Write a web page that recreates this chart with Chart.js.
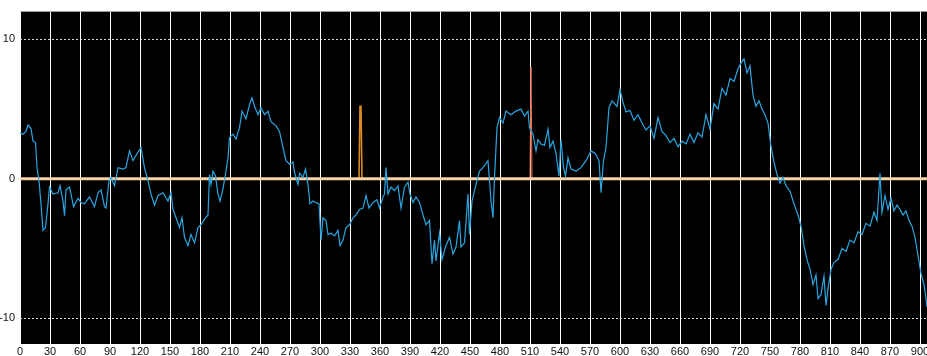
<!DOCTYPE html>
<html>
<head>
<meta charset="utf-8">
<script src="https://cdn.jsdelivr.net/npm/chart.js@4.4.1/dist/chart.umd.min.js"></script>
<style>
  html, body { margin: 0; padding: 0; background: #fff; overflow: hidden; }
  #wrap { width: 927px; height: 356px; position: relative; }
</style>
</head>
<body>
<div id="wrap"><canvas id="chart"></canvas></div>
<script>
"use strict";

// ── Data ───────────────────────────────────────────────────
// Blue signal: x positions and values, ten per row.
const blueX = [
  0, 3, 6, 8, 11, 13, 15.5, 17, 19, 21,
  23, 25.5, 28, 29.5, 33, 38, 40, 43, 44.5, 46,
  49.5, 51, 53.5, 58, 61, 64.5, 69.5, 74.5, 78, 81,
  84.5, 86, 89, 91, 94.5, 98, 103, 106, 109.5, 113,
  117, 121, 124.5, 128, 131, 134.5, 138, 143, 148, 151,
  153, 156, 159.5, 162, 164.5, 168, 171, 174.5, 178, 181,
  184.5, 188, 189.5, 191, 193, 195.5, 198, 200, 203, 206,
  208, 209.5, 213, 216, 219.5, 222, 226, 229.5, 232, 234.5,
  238, 241, 244.5, 248, 251, 256, 259.5, 263, 266, 269.5,
  273, 274.5, 278, 279.5, 283, 285.5, 288, 290, 293, 296,
  299, 301, 303, 306, 308, 311, 314.5, 318, 320, 323,
  326, 329.5, 333, 336, 339.5, 343, 346, 349, 353, 357,
  359.5, 363, 364.5, 366, 368, 371, 374.5, 378, 381, 384.5,
  388, 390, 393, 396, 399.5, 403, 406, 409.5, 412, 414.5,
  416, 419.5, 422, 425.5, 429.5, 433, 436, 439.5, 441, 444.5,
  448, 449.5, 452, 456, 459.5, 463, 465.5, 468, 471, 473,
  474.5, 477, 479.5, 483, 486, 491, 496, 501, 504.5, 508,
  509.5, 513, 516, 518, 521, 524.5, 528, 530, 533, 536,
  539, 541, 543.5, 545.5, 548, 551, 556, 561, 566, 571,
  575.5, 579, 581, 583.5, 586, 589, 592, 597, 600, 603,
  606, 610, 614, 618, 622, 626, 630, 634, 638, 642,
  646, 650, 654, 658, 662, 666, 670, 674, 678, 682,
  686, 690, 694, 698, 702, 706, 710, 714, 718, 721,
  724, 727, 730, 733, 736, 739, 742, 745, 748, 751,
  754, 757, 760, 763, 766, 770, 774, 778, 781, 784,
  787, 790, 793, 796, 798, 801, 804, 806, 808, 811,
  814, 818, 822, 826, 830, 834, 838, 842, 846, 850,
  854, 857, 860, 862, 865, 868, 871, 874, 877, 880,
  883, 886, 889, 892, 895, 898, 901, 904, 906, 907
];
const blueY = [
  3.3, 3.2, 3.4, 3.86, 3.6, 2.7, 2.6, 0.8, -0.15, -1.8,
  -3.7, -3.5, -1.8, -0.6, -1.1, -1.0, -0.5, -1.6, -2.65, -0.8,
  -0.6, -1.1, -2.0, -1.4, -1.7, -1.8, -1.3, -2.0, -1.0, -0.8,
  -2.0, -2.1, -0.15, 0.1, -0.5, 0.8, 0.7, 0.8, 2.0, 1.3,
  1.8, 2.24, 0.8, -0.15, -1.1, -1.9, -1.2, -1.0, -1.6, -1.0,
  -2.2, -2.8, -3.5, -2.8, -4.2, -4.8, -4.0, -4.6, -3.5, -3.3,
  -2.9, -2.6, 0.3, -0.4, 0.55, 0.2, -1.1, -1.6, -0.7, 0.55,
  1.5, 2.95, 3.2, 2.85, 3.67, 4.86, 4.3, 5.33, 5.8, 5.2,
  4.6, 5.1, 4.6, 4.86, 4.1, 3.8, 3.4, 2.24, 1.3, 1.05,
  1.2, 0.45, -0.4, 0.4, 0.1, 0.7, -0.4, -1.8, -1.6, -1.7,
  -1.8, -4.4, -2.8, -3.0, -4.0, -3.9, -4.1, -3.7, -4.8, -4.4,
  -3.5, -3.3, -2.8, -2.6, -2.2, -2.1, -1.2, -2.1, -1.7, -1.5,
  -2.1, -1.3, -1.1, 0.8, -1.1, -0.6, -0.85, -0.5, -2.1, -0.6,
  -0.25, -1.1, -1.7, -1.3, -1.7, -2.6, -3.3, -3.0, -6.1, -4.4,
  -5.9, -3.9, -5.8, -4.9, -4.2, -5.4, -4.9, -3.0, -4.9, -4.6,
  -1.1, -4.0, -1.6, -0.4, 0.55, 0.8, 1.05, 1.3, -1.6, -2.8,
  0.1, 3.67, 4.4, 4.0, 4.86, 4.6, 4.86, 5.0, 4.5, 4.86,
  3.67, 3.2, 2.0, 2.8, 2.5, 2.4, 3.55, 2.24, 2.7, 1.8,
  0.2, 2.8, 0.8, 0.2, 1.5, 0.7, 0.55, 0.8, 1.3, 2.0,
  1.8, 1.3, -1.0, 1.3, 2.24, 5.1, 5.6, 5.2, 6.4, 5.5,
  4.8, 4.9, 4.2, 4.6, 4.0, 3.5, 3.8, 2.9, 4.4, 3.4,
  3.1, 2.6, 2.9, 2.3, 2.7, 2.5, 3.2, 2.6, 3.3, 3.0,
  4.6, 3.6, 5.4, 5.0, 6.5, 6.0, 7.2, 7.0, 7.9, 8.3,
  8.6, 7.6, 8.1, 6.0, 5.2, 5.6, 5.0, 4.6, 4.0, 2.3,
  1.2, 0.3, -0.3, 0.1, -0.5, -0.9, -1.8, -2.6, -3.4, -4.8,
  -5.8, -6.5, -7.6, -6.9, -8.6, -8.3, -7.0, -9.1, -7.9, -6.5,
  -6.0, -5.8, -5.0, -5.2, -4.4, -4.6, -3.8, -4.0, -3.2, -3.4,
  -2.4, -3.0, 0.4, -2.4, -1.2, -2.2, -1.4, -2.3, -1.9, -2.2,
  -2.6, -2.3, -3.0, -3.4, -4.2, -5.5, -6.8, -7.6, -8.6, -9.2
];

// Orange event series: zero except for two short spikes.
const spikeX = [0, 339, 340, 341, 342, 510, 511, 512, 907];
const spikeY = [0, 0, 5.2, 5.2, 0, 0, 8.0, 0, 0];

// Beige zero baseline.
const zeroX = [0, 907];
const zeroY = [0, 0];

// Axis ticks.
const xTicks = [0, 30, 60, 90, 120, 150, 180, 210, 240, 270, 300, 330, 360, 390, 420,
  450, 480, 510, 540, 570, 600, 630, 660, 690, 720, 750, 780, 810, 840, 870, 900];
const yTicks = [-10, 0, 10];

// ── Helpers ────────────────────────────────────────────────
const toPoints = (xs, ys) => xs.map((x, i) => ({ x, y: ys[i] }));

/** Paint the plot area black before the grid goes on. */
const blackAreaPlugin = {
  id: "blackArea",
  beforeDraw(chart) {
    const { ctx, chartArea: a } = chart;
    ctx.save();
    ctx.fillStyle = "#000";
    ctx.fillRect(a.left, a.top, a.right - a.left, a.bottom - a.top);
    ctx.restore();
  },
};

const tickFont = { family: "'Liberation Sans', Arial, sans-serif", size: 11 };

// The later spike is drawn thinner and redder than the first one.
const lateSpike = (c) => c.p0.parsed.x >= 500;

new Chart(document.getElementById("chart"), {
  type: "line",
  data: {
    datasets: [
      {
        label: "signal",
        data: toPoints(blueX, blueY),
        borderColor: "#29a6e2",
        borderWidth: 1.2,
        pointRadius: 0,
        tension: 0,
        order: 0,
      },
      {
        label: "zero",
        data: toPoints(zeroX, zeroY),
        borderColor: "#f6d2a6",
        borderWidth: 3,
        pointRadius: 0,
        order: 1,
      },
      {
        label: "events",
        data: toPoints(spikeX, spikeY),
        borderColor: "#dc8a1e",
        borderWidth: 1.6,
        pointRadius: 0,
        tension: 0,
        order: 2,
        segment: {
          borderColor: (c) => (lateSpike(c) ? "#ea7552" : undefined),
          borderWidth: (c) => (lateSpike(c) ? 1 : undefined),
        },
      },
    ],
  },
  options: {
    responsive: true,
    maintainAspectRatio: false,
    animation: false,
    events: [],
    layout: { padding: { top: 10, left: 0, right: 0, bottom: 0 } },
    plugins: { legend: { display: false }, tooltip: { enabled: false } },
    scales: {
      x: {
        type: "linear",
        min: 0,
        max: 907,
        afterBuildTicks: (s) => { s.ticks = xTicks.map((v) => ({ value: v })); },
        afterFit: (s) => { s.height = 12; s.paddingLeft = 0; s.paddingRight = 0; },
        grid: { color: "#ffffff", lineWidth: 1, drawTicks: false },
        border: { display: false },
        ticks: { color: "#111", font: tickFont, padding: 1, maxRotation: 0, autoSkip: false },
      },
      y: {
        min: -11.86,
        max: 12,
        afterBuildTicks: (s) => { s.ticks = yTicks.map((v) => ({ value: v })); },
        afterFit: (s) => { s.width = 20; },
        grid: {
          // The zero line is drawn by its own dataset; hide the grid line there.
          color: (c) => (c.tick && c.tick.value === 0 ? "rgba(0,0,0,0)" : "rgba(255,255,255,0.85)"),
          lineWidth: 1,
          drawTicks: false,
        },
        border: { display: false, dash: [2, 2] },
        ticks: { color: "#111", font: tickFont, padding: 5 },
      },
    },
  },
  plugins: [blackAreaPlugin],
});
</script>
</body>
</html>
